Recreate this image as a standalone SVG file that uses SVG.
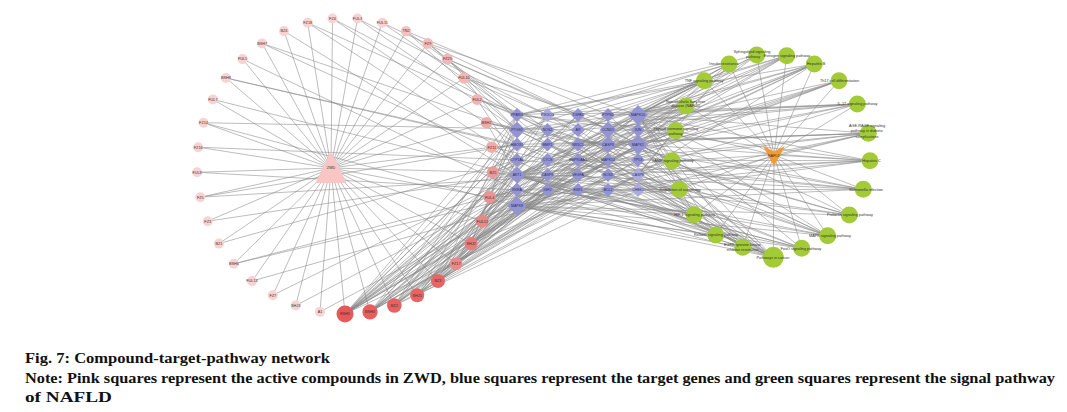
<svg xmlns="http://www.w3.org/2000/svg" width="1067" height="412" viewBox="0 0 1067 412">
<style>
.e{fill:none;stroke:#868686;stroke-width:0.55}
.cp{fill:#f9d3d3}
.t{font-family:"Liberation Sans",Arial,sans-serif;font-size:3.8px;fill:#333;text-anchor:middle}
.d{fill:#9494d2}
.dl{fill:#ababdf}
.td{font-family:"Liberation Sans",Arial,sans-serif;font-size:3.5px;fill:#2b2b5e;text-anchor:middle}
.pw{fill:#a3cb38}
.cap{font-family:"Liberation Serif","Times New Roman",serif;font-weight:bold;font-size:15.5px;fill:#111}
</style>
<rect width="1067" height="412" fill="#ffffff"/>
<g id="connectors">
<path class="e" d="M331 168L357.5 18.5M331 168L382.3 22.8M331 168L406 31.1M331 168L427.9 43.4M331 168L447.4 59.1M331 168L464 78M331 168L477.1 99.4M331 168L486.5 122.7M331 168L491.8 147.2M331 168L492.9 172.3M331 168L489.7 197.2M331 168L482.3 221.2M331 168L471.1 243.6M331 168L456.1 263.8M331 168L438 281.1M331 168L417.2 295.2M331 168L394.3 305.5M331 168L370 311.9M331 168L345 314M331 168L320 311.9M331 168L295.7 305.5M331 168L272.8 295.2M331 168L252 281.1M331 168L233.9 263.8M331 168L218.9 243.6M331 168L207.7 221.2M331 168L200.3 197.2M331 168L197.1 172.3M331 168L198.2 147.2M331 168L203.5 122.7M331 168L212.9 99.4M331 168L226 78M331 168L242.6 59.1M331 168L262.1 43.4M331 168L284 31.1M331 168L307.7 22.8M331 168L332.5 18.5"/>
<path class="e" d="M332.5 18.5L517 115M332.5 18.5L517 144.5M357.5 18.5L517 130M357.5 18.5L547.5 115M382.3 22.8L517 115M382.3 22.8L578 115M406 31.1L517 130M406 31.1L547.5 130M406 31.1L608 115M427.9 43.4L517 115M427.9 43.4L547.5 144.5M427.9 43.4L638 115M447.4 59.1L517 130M447.4 59.1L578 115M447.4 59.1L608 130M464 78L517 144.5M464 78L547.5 115M464 78L638 130M477.1 99.4L517 115M477.1 99.4L517 160M477.1 99.4L578 130M486.5 122.7L517 130M486.5 122.7L517 175M486.5 122.7L578 144.5M486.5 122.7L608 144.5M491.8 147.2L517 144.5M491.8 147.2L547.5 160M491.8 147.2L638 144.5M307.7 22.8L517 160M307.7 22.8L547.5 130M284 31.1L517 175M262.1 43.4L517 130M262.1 43.4L547.5 175M242.6 59.1L517 190M226 78L517 144.5M226 78L578 160M212.9 99.4L517 175M203.5 122.7L517 206M203.5 122.7L578 130M198.2 147.2L517 160M197.1 172.3L517 190M200.3 197.2L517 144.5M200.3 197.2L578 175M207.7 221.2L517 175M218.9 243.6L517 160M233.9 263.8L517 190M233.9 263.8L547.5 190M252 281.1L517 206M272.8 295.2L517 175M295.7 305.5L517 190M320 311.9L517 206"/>
<path class="e" d="M345 314L517 115M345 314L517 130M345 314L517 144.5M345 314L517 160M345 314L517 175M345 314L517 190M345 314L517 206M345 314L547.5 115M345 314L547.5 144.5M345 314L547.5 175M345 314L578 115M345 314L578 144.5M345 314L578 175M345 314L608 115M345 314L608 160M345 314L638 115M345 314L638 144.5M345 314L638 175"/>
<path class="e" d="M370 311.9L517 130M370 311.9L517 160M370 311.9L517 190M370 311.9L547.5 130M370 311.9L547.5 160M370 311.9L547.5 190M370 311.9L578 130M370 311.9L578 160M370 311.9L578 190M370 311.9L608 130M370 311.9L608 175M370 311.9L638 130M370 311.9L638 160"/>
<path class="e" d="M394.3 305.5L517 115M394.3 305.5L517 144.5M394.3 305.5L517 175M394.3 305.5L517 206M394.3 305.5L547.5 115M394.3 305.5L547.5 160M394.3 305.5L578 144.5M394.3 305.5L578 175M394.3 305.5L608 144.5M394.3 305.5L608 190M394.3 305.5L638 115M394.3 305.5L638 190"/>
<path class="e" d="M417.2 295.2L517 130M417.2 295.2L517 175M417.2 295.2L547.5 130M417.2 295.2L547.5 175M417.2 295.2L578 115M417.2 295.2L578 160M417.2 295.2L608 115M417.2 295.2L608 160M417.2 295.2L638 144.5M417.2 295.2L638 175"/>
<path class="e" d="M438 281.1L517 115M438 281.1L517 160M438 281.1L517 206M438 281.1L547.5 144.5M438 281.1L547.5 190M438 281.1L578 130M438 281.1L578 190M438 281.1L608 130M438 281.1L608 175M438 281.1L638 115M438 281.1L638 160"/>
<path class="e" d="M456.1 263.8L517 144.5M456.1 263.8L517 190M456.1 263.8L547.5 115M456.1 263.8L578 144.5M456.1 263.8L608 144.5M456.1 263.8L638 130M471.1 243.6L517 130M471.1 243.6L517 175M471.1 243.6L547.5 160M471.1 243.6L578 175M471.1 243.6L608 160M471.1 243.6L638 144.5M471.1 243.6L638 175M482.3 221.2L517 160M482.3 221.2L517 206M482.3 221.2L547.5 130M482.3 221.2L578 160M482.3 221.2L608 190M482.3 221.2L638 115M489.7 197.2L517 115M489.7 197.2L517 190M489.7 197.2L547.5 175M489.7 197.2L578 115M489.7 197.2L608 175M489.7 197.2L638 190M492.9 172.3L517 144.5M492.9 172.3L517 175M492.9 172.3L547.5 144.5M492.9 172.3L578 190M492.9 172.3L608 115M492.9 172.3L638 130"/>
<path class="e" d="M704.3 80.7L517 115M704.3 80.7L517 175M704.3 80.7L517 206M704.3 80.7L547.5 144.5M704.3 80.7L608 115M704.3 80.7L638 115M704.3 80.7L638 144.5M729 64L517 130M729 64L517 175M729 64L547.5 115M729 64L578 144.5M729 64L608 160M729 64L638 115M729 64L638 175M756.7 55L517 115M756.7 55L517 206M756.7 55L547.5 160M756.7 55L608 130M756.7 55L638 144.5M786.7 55.7L517 175M786.7 55.7L517 206M786.7 55.7L547.5 130M786.7 55.7L578 115M786.7 55.7L608 144.5M786.7 55.7L638 115M786.7 55.7L638 144.5"/>
<path class="e" d="M814.3 64L517 115M814.3 64L517 144.5M814.3 64L517 175M814.3 64L517 206M814.3 64L547.5 175M814.3 64L578 160M814.3 64L608 160M814.3 64L638 115M814.3 64L638 175M839 80.7L517 175M839 80.7L517 190M839 80.7L547.5 190M839 80.7L578 175M839 80.7L608 130M839 80.7L638 144.5M857.3 104L517 130M857.3 104L517 175M857.3 104L517 206M857.3 104L547.5 115M857.3 104L578 130M857.3 104L608 115M857.3 104L638 115M857.3 104L638 144.5"/>
<path class="e" d="M868.3 133.3L517 144.5M868.3 133.3L517 175M868.3 133.3L517 206M868.3 133.3L547.5 144.5M868.3 133.3L578 144.5M868.3 133.3L608 160M868.3 133.3L638 115M868.3 133.3L638 190M870 160.7L517 115M870 160.7L517 175M870 160.7L517 206M870 160.7L547.5 160M870 160.7L578 190M870 160.7L608 175M870 160.7L638 115M870 160.7L638 144.5M863.3 189.3L517 130M863.3 189.3L517 160M863.3 189.3L517 206M863.3 189.3L547.5 175M863.3 189.3L578 160M863.3 189.3L608 190M863.3 189.3L638 144.5"/>
<path class="e" d="M849.3 215L517 175M849.3 215L517 206M849.3 215L547.5 130M849.3 215L578 175M849.3 215L608 144.5M849.3 215L638 115M827.7 235.7L517 115M827.7 235.7L517 175M827.7 235.7L517 206M827.7 235.7L547.5 190M827.7 235.7L578 115M827.7 235.7L608 160M827.7 235.7L638 115M827.7 235.7L638 144.5M827.7 235.7L638 175M801.7 248.3L517 175M801.7 248.3L517 190M801.7 248.3L517 206M801.7 248.3L547.5 144.5M801.7 248.3L578 190M801.7 248.3L608 175M801.7 248.3L638 115"/>
<path class="e" d="M773.3 257.3L517 115M773.3 257.3L517 130M773.3 257.3L517 144.5M773.3 257.3L517 175M773.3 257.3L517 190M773.3 257.3L517 206M773.3 257.3L547.5 115M773.3 257.3L547.5 160M773.3 257.3L578 130M773.3 257.3L578 175M773.3 257.3L608 115M773.3 257.3L608 160M773.3 257.3L608 190M773.3 257.3L638 115M773.3 257.3L638 144.5M773.3 257.3L638 160"/>
<path class="e" d="M742.7 247.3L517 175M742.7 247.3L517 206M742.7 247.3L547.5 130M742.7 247.3L578 144.5M742.7 247.3L608 144.5M742.7 247.3L638 115M742.7 247.3L638 144.5M715.7 235L517 175M715.7 235L517 206M715.7 235L547.5 175M715.7 235L578 160M715.7 235L608 130M715.7 235L638 115M715.7 235L638 175M694.3 214.7L517 130M694.3 214.7L517 175M694.3 214.7L517 206M694.3 214.7L547.5 190M694.3 214.7L578 190M694.3 214.7L608 160M694.3 214.7L638 115"/>
<path class="e" d="M679.3 189.3L517 175M679.3 189.3L517 190M679.3 189.3L517 206M679.3 189.3L547.5 144.5M679.3 189.3L608 175M679.3 189.3L638 144.5M672 160.7L517 175M672 160.7L517 206M672 160.7L547.5 115M672 160.7L578 115M672 160.7L608 190M672 160.7L638 115M675.7 130.7L517 115M675.7 130.7L517 175M675.7 130.7L547.5 160M675.7 130.7L578 175M675.7 130.7L608 130M675.7 130.7L638 175M685.7 106L517 115M685.7 106L517 130M685.7 106L517 175M685.7 106L517 206M685.7 106L578 144.5M685.7 106L608 115M685.7 106L638 115M685.7 106L638 144.5"/>
<path class="e" d="M774 155L704.3 80.7M774 155L729 64M774 155L756.7 55M774 155L786.7 55.7M774 155L814.3 64M774 155L839 80.7M774 155L857.3 104M774 155L868.3 133.3M774 155L870 160.7M774 155L863.3 189.3M774 155L849.3 215M774 155L827.7 235.7M774 155L801.7 248.3M774 155L773.3 257.3M774 155L742.7 247.3M774 155L715.7 235M774 155L694.3 214.7M774 155L679.3 189.3M774 155L672 160.7M774 155L675.7 130.7M774 155L685.7 106"/>
</g>
<g id="ZWD"><polygon points="331,151 315.5,183 346.5,183" fill="#f9c6c6"/><text class="t" x="331" y="169">ZWD</text></g>
<g id="compounds">
<g id="c-FUL3"><circle class="cp" cx="357.5" cy="18.5" r="5"/><text class="t" x="357.5" y="19.8">FUL3</text></g>
<g id="c-FUL11"><circle class="cp" cx="382.3" cy="22.8" r="5"/><text class="t" x="382.3" y="24.1">FUL11</text></g>
<g id="c-TN2"><circle cx="406" cy="31.1" r="5.2" fill="#f6c0c0"/><text class="t" x="406" y="32.4">TN2</text></g>
<g id="c-FZ9"><circle cx="427.9" cy="43.4" r="5.3" fill="#f5bbbb"/><text class="t" x="427.9" y="44.7">FZ9</text></g>
<g id="c-FZ25"><circle cx="447.4" cy="59.1" r="5.5" fill="#f4b6b6"/><text class="t" x="447.4" y="60.4">FZ25</text></g>
<g id="c-FUL10"><circle cx="464" cy="78" r="5.5" fill="#f4b6b6"/><text class="t" x="464" y="79.3">FUL10</text></g>
<g id="c-FUL2"><circle cx="477.1" cy="99.4" r="5.5" fill="#f4b4b4"/><text class="t" x="477.1" y="100.7">FUL2</text></g>
<g id="c-BSH2"><circle cx="486.5" cy="122.7" r="5.8" fill="#f2abab"/><text class="t" x="486.5" y="124">BSH2</text></g>
<g id="c-FZ11"><circle cx="491.8" cy="147.2" r="5.8" fill="#f2abab"/><text class="t" x="491.8" y="148.5">FZ11</text></g>
<g id="c-BZ5"><circle cx="492.9" cy="172.3" r="6" fill="#ee9999"/><text class="t" x="492.9" y="173.6">BZ5</text></g>
<g id="c-FUL4"><circle cx="489.7" cy="197.2" r="6.2" fill="#ee9393"/><text class="t" x="489.7" y="198.5">FUL4</text></g>
<g id="c-FUL12"><circle cx="482.3" cy="221.2" r="6.3" fill="#ec8787"/><text class="t" x="482.3" y="222.5">FUL12</text></g>
<g id="c-SHJ2"><circle cx="471.1" cy="243.6" r="6.5" fill="#ea7a7a"/><text class="t" x="471.1" y="244.9">SHJ2</text></g>
<g id="c-FZ17"><circle cx="456.1" cy="263.8" r="6.3" fill="#ec8888"/><text class="t" x="456.1" y="265.1">FZ17</text></g>
<g id="c-BZ3"><circle cx="438" cy="281.1" r="7" fill="#e86565"/><text class="t" x="438" y="282.4">BZ3</text></g>
<g id="c-SHJ5"><circle cx="417.2" cy="295.2" r="7" fill="#e86464"/><text class="t" x="417.2" y="296.5">SHJ5</text></g>
<g id="c-BZ2"><circle cx="394.3" cy="305.5" r="7.3" fill="#e86060"/><text class="t" x="394.3" y="306.8">BZ2</text></g>
<g id="c-BSH3"><circle cx="370" cy="311.9" r="7.6" fill="#e85d5d"/><text class="t" x="370" y="313.2">BSH3</text></g>
<g id="c-BSH5"><circle cx="345" cy="314" r="8.5" fill="#e85858"/><text class="t" x="345" y="315.3">BSH5</text></g>
<g id="c-A1"><circle class="cp" cx="320" cy="311.9" r="5"/><text class="t" x="320" y="313.2">A1</text></g>
<g id="c-SHJ3"><circle class="cp" cx="295.7" cy="305.5" r="5"/><text class="t" x="295.7" y="306.8">SHJ3</text></g>
<g id="c-FZ7"><circle class="cp" cx="272.8" cy="295.2" r="5"/><text class="t" x="272.8" y="296.5">FZ7</text></g>
<g id="c-FUL13"><circle class="cp" cx="252" cy="281.1" r="5"/><text class="t" x="252" y="282.4">FUL13</text></g>
<g id="c-BSH6"><circle class="cp" cx="233.9" cy="263.8" r="5"/><text class="t" x="233.9" y="265.1">BSH6</text></g>
<g id="c-BZ1"><circle class="cp" cx="218.9" cy="243.6" r="5"/><text class="t" x="218.9" y="244.9">BZ1</text></g>
<g id="c-FZ3"><circle class="cp" cx="207.7" cy="221.2" r="5"/><text class="t" x="207.7" y="222.5">FZ3</text></g>
<g id="c-FZ5"><circle class="cp" cx="200.3" cy="197.2" r="5"/><text class="t" x="200.3" y="198.5">FZ5</text></g>
<g id="c-FUL8"><circle class="cp" cx="197.1" cy="172.3" r="5"/><text class="t" x="197.1" y="173.6">FUL8</text></g>
<g id="c-FZ16"><circle class="cp" cx="198.2" cy="147.2" r="5"/><text class="t" x="198.2" y="148.5">FZ16</text></g>
<g id="c-FZ14"><circle class="cp" cx="203.5" cy="122.7" r="5"/><text class="t" x="203.5" y="124">FZ14</text></g>
<g id="c-FUL7"><circle class="cp" cx="212.9" cy="99.4" r="5"/><text class="t" x="212.9" y="100.7">FUL7</text></g>
<g id="c-BSH8"><circle class="cp" cx="226" cy="78" r="5"/><text class="t" x="226" y="79.3">BSH8</text></g>
<g id="c-FUL5"><circle class="cp" cx="242.6" cy="59.1" r="5"/><text class="t" x="242.6" y="60.4">FUL5</text></g>
<g id="c-BSH7"><circle class="cp" cx="262.1" cy="43.4" r="5"/><text class="t" x="262.1" y="44.7">BSH7</text></g>
<g id="c-BZ4"><circle class="cp" cx="284" cy="31.1" r="5"/><text class="t" x="284" y="32.4">BZ4</text></g>
<g id="c-FZ18"><circle class="cp" cx="307.7" cy="22.8" r="5"/><text class="t" x="307.7" y="24.1">FZ18</text></g>
<g id="c-FZ4"><circle class="cp" cx="332.5" cy="18.5" r="5"/><text class="t" x="332.5" y="19.8">FZ4</text></g>
</g>
<g id="targets">
<g id="t-PPARG" transform="translate(517,115)"><path class="d" d="M0-7L7 0 0 7-7 0Z"/><text class="td" y="1.2">PPARG</text></g>
<g id="t-PTGS2" transform="translate(517,130)"><path class="d" d="M0-8.5L8.5 0 0 8.5-8.5 0Z"/><text class="td" y="1.2">PTGS2</text></g>
<g id="t-HMOX1" transform="translate(517,144.5)"><path class="d" d="M0-7L7 0 0 7-7 0Z"/><text class="td" y="1.2">HMOX1</text></g>
<g id="t-CYP1A1" transform="translate(517,160)"><path class="d" d="M0-7L7 0 0 7-7 0Z"/><text class="td" y="1.2">CYP1A1</text></g>
<g id="t-AKT1" transform="translate(517,175)"><path class="d" d="M0-8.5L8.5 0 0 8.5-8.5 0Z"/><text class="td" y="1.2">AKT1</text></g>
<g id="t-RXRA" transform="translate(517,190)"><path class="d" d="M0-7L7 0 0 7-7 0Z"/><text class="td" y="1.2">RXRA</text></g>
<g id="t-MAPK8" transform="translate(517,206)"><path class="d" d="M0-9.5L10 0 0 9.5-10 0Z"/><text class="td" y="1.2">MAPK8</text></g>
<g id="t-PIK3CG" transform="translate(547.5,115)"><path class="dl" d="M0-7L7 0 0 7-7 0Z"/><text class="td" y="1.2">PIK3CG</text></g>
<g id="t-NOS2" transform="translate(547.5,130)"><path class="d" d="M0-7L7 0 0 7-7 0Z"/><text class="td" y="1.2">NOS2</text></g>
<g id="t-MMP1" transform="translate(547.5,144.5)"><path class="d" d="M0-7L7 0 0 7-7 0Z"/><text class="td" y="1.2">MMP1</text></g>
<g id="t-CYCS" transform="translate(547.5,160)"><path class="d" d="M0-7L7 0 0 7-7 0Z"/><text class="td" y="1.2">CYCS</text></g>
<g id="t-CASP9" transform="translate(547.5,175)"><path class="d" d="M0-7L7 0 0 7-7 0Z"/><text class="td" y="1.2">CASP9</text></g>
<g id="t-IGF2" transform="translate(547.5,190)"><path class="d" d="M0-7L7 0 0 7-7 0Z"/><text class="td" y="1.2">IGF2</text></g>
<g id="t-TGFB1" transform="translate(578,115)"><path class="d" d="M0-7L7 0 0 7-7 0Z"/><text class="td" y="1.2">TGFB1</text></g>
<g id="t-AR" transform="translate(578,130)"><path class="d" d="M0-7L7 0 0 7-7 0Z"/><text class="td" y="1.2">AR</text></g>
<g id="t-NR3C1" transform="translate(578,144.5)"><path class="d" d="M0-7L7 0 0 7-7 0Z"/><text class="td" y="1.2">NR3C1</text></g>
<g id="t-HSP90AA1" transform="translate(578,160)"><path class="d" d="M0-7L7 0 0 7-7 0Z"/><text class="td" y="1.2">HSP90AA1</text></g>
<g id="t-VEGFA" transform="translate(578,175)"><path class="d" d="M0-7L7 0 0 7-7 0Z"/><text class="td" y="1.2">VEGFA</text></g>
<g id="t-ESR1" transform="translate(578,190)"><path class="d" d="M0-7L7 0 0 7-7 0Z"/><text class="td" y="1.2">ESR1</text></g>
<g id="t-PTPN1" transform="translate(608,115)"><path class="d" d="M0-7L7 0 0 7-7 0Z"/><text class="td" y="1.2">PTPN1</text></g>
<g id="t-CCND1" transform="translate(608,130)"><path class="d" d="M0-8.5L8.5 0 0 8.5-8.5 0Z"/><text class="td" y="1.2">CCND1</text></g>
<g id="t-CASP3" transform="translate(608,144.5)"><path class="d" d="M0-8.5L8.5 0 0 8.5-8.5 0Z"/><text class="td" y="1.2">CASP3</text></g>
<g id="t-MAPK14" transform="translate(608,160)"><path class="d" d="M0-7L7 0 0 7-7 0Z"/><text class="td" y="1.2">MAPK14</text></g>
<g id="t-NOS3" transform="translate(608,175)"><path class="d" d="M0-7L7 0 0 7-7 0Z"/><text class="td" y="1.2">NOS3</text></g>
<g id="t-BCL2" transform="translate(608,190)"><path class="d" d="M0-7L7 0 0 7-7 0Z"/><text class="td" y="1.2">BCL2</text></g>
<g id="t-MAPK10" transform="translate(638,115)"><path class="d" d="M0-10L10 0 0 10-10 0Z"/><text class="td" y="1.2">MAPK10</text></g>
<g id="t-JUN" transform="translate(638,130)"><path class="d" d="M0-7L7 0 0 7-7 0Z"/><text class="td" y="1.2">JUN</text></g>
<g id="t-MAPK1" transform="translate(638,144.5)"><path class="d" d="M0-10L10 0 0 10-10 0Z"/><text class="td" y="1.2">MAPK1</text></g>
<g id="t-TP53" transform="translate(638,160)"><path class="d" d="M0-7L7 0 0 7-7 0Z"/><text class="td" y="1.2">TP53</text></g>
<g id="t-CASP8" transform="translate(638,175)"><path class="dl" d="M0-7L7 0 0 7-7 0Z"/><text class="td" y="1.2">CASP8</text></g>
<g id="t-CHEK1" transform="translate(638,190)"><path class="dl" d="M0-7L7 0 0 7-7 0Z"/><text class="td" y="1.2">CHEK1</text></g>
</g>
<g id="pathways">
<g id="p-tnf"><circle class="pw" cx="704.3" cy="80.7" r="8.5"/><text class="t" x="704" y="82">TNF signaling pathway</text></g>
<g id="p-insulin"><circle class="pw" cx="729" cy="64" r="8.5"/><text class="t" x="724" y="65.3">Insulin resistance</text></g>
<g id="p-sphingo"><circle class="pw" cx="756.7" cy="55" r="8.5"/><text class="t" x="752" y="52.5">Sphingolipid signaling<tspan x="753" dy="5">pathway</tspan></text></g>
<g id="p-estrogen"><circle class="pw" cx="786.7" cy="55.7" r="8.5"/><text class="t" x="787" y="57">Estrogen signaling pathway</text></g>
<g id="p-hepb"><circle class="pw" cx="814.3" cy="64" r="8.5"/><text class="t" x="816" y="65.3">Hepatitis B</text></g>
<g id="p-th17"><circle class="pw" cx="839" cy="80.7" r="8.5"/><text class="t" x="839.5" y="82">Th17 cell differentiation</text></g>
<g id="p-il17"><circle class="pw" cx="857.3" cy="104" r="8.5"/><text class="t" x="857.5" y="105.3">IL-17 signaling pathway</text></g>
<g id="p-age"><circle class="pw" cx="868.3" cy="133.3" r="8.5"/><text class="t" x="867" y="127">AGE-RAGE signaling<tspan x="867" dy="5">pathway in diabetic</tspan><tspan x="867" dy="5.5">complications</tspan></text></g>
<g id="p-hepc"><circle class="pw" cx="870" cy="160.7" r="8.5"/><text class="t" x="871.5" y="162">Hepatitis C</text></g>
<g id="p-salmonella"><circle class="pw" cx="863.3" cy="189.3" r="8.5"/><text class="t" x="866" y="190.6">Salmonella infection</text></g>
<g id="p-prolactin"><circle class="pw" cx="849.3" cy="215" r="8.5"/><text class="t" x="850" y="216.3">Prolactin signaling pathway</text></g>
<g id="p-mapk"><circle class="pw" cx="827.7" cy="235.7" r="8.5"/><text class="t" x="830" y="237">MAPK signaling pathway</text></g>
<g id="p-foxo"><circle class="pw" cx="801.7" cy="248.3" r="8.5"/><text class="t" x="801" y="249.6">FoxO signaling pathway</text></g>
<g id="p-cancer"><circle class="pw" cx="773.3" cy="257.3" r="10.5"/><text class="t" x="773" y="258.6">Pathways in cancer</text></g>
<g id="p-egfr"><circle class="pw" cx="742.7" cy="247.3" r="8.5"/><text class="t" x="742.5" y="246">EGFR tyrosine kinase<tspan x="742.5" dy="4.8">inhibitor resistance</tspan></text></g>
<g id="p-relaxin"><circle class="pw" cx="715.7" cy="235" r="8.5"/><text class="t" x="716" y="236.3">Relaxin signaling pathway</text></g>
<g id="p-hif1"><circle class="pw" cx="694.3" cy="214.7" r="8.5"/><text class="t" x="694.5" y="216">HIF-1 signaling pathway</text></g>
<g id="p-autophagy"><circle class="pw" cx="679.3" cy="189.3" r="8.5"/><text class="t" x="680" y="190.6">Regulation of autophagy</text></g>
<g id="p-camp"><circle class="pw" cx="672" cy="160.7" r="8.5"/><text class="t" x="673" y="162">cAMP signaling pathway</text></g>
<g id="p-thyroid"><circle class="pw" cx="675.7" cy="130.7" r="8.5"/><text class="t" x="675.7" y="130">Thyroid hormone signaling<tspan x="675.7" dy="4.8">pathway</tspan></text></g>
<g id="p-nafld"><circle class="pw" cx="685.7" cy="106" r="8.5"/><text class="t" x="685.7" y="102.5">Non-alcoholic fatty liver<tspan x="685.7" dy="4.8">disease (NAFLD)</tspan></text></g>
</g>
<g id="NAFLD"><polygon points="763,146 774,151.5 785,146 774,166" fill="#f59a2c"/><text class="t" x="774" y="157">NAFLD</text></g>
<g id="caption">
<text class="cap" x="25" y="363" textLength="305" lengthAdjust="spacingAndGlyphs">Fig. 7: Compound-target-pathway network</text>
<text class="cap" x="25" y="383" textLength="1030" lengthAdjust="spacingAndGlyphs">Note: Pink squares represent the active compounds in ZWD, blue squares represent the target genes and green squares represent the signal pathway</text>
<text class="cap" x="25" y="402" textLength="87" lengthAdjust="spacingAndGlyphs">of NAFLD</text>
</g>
</svg>
